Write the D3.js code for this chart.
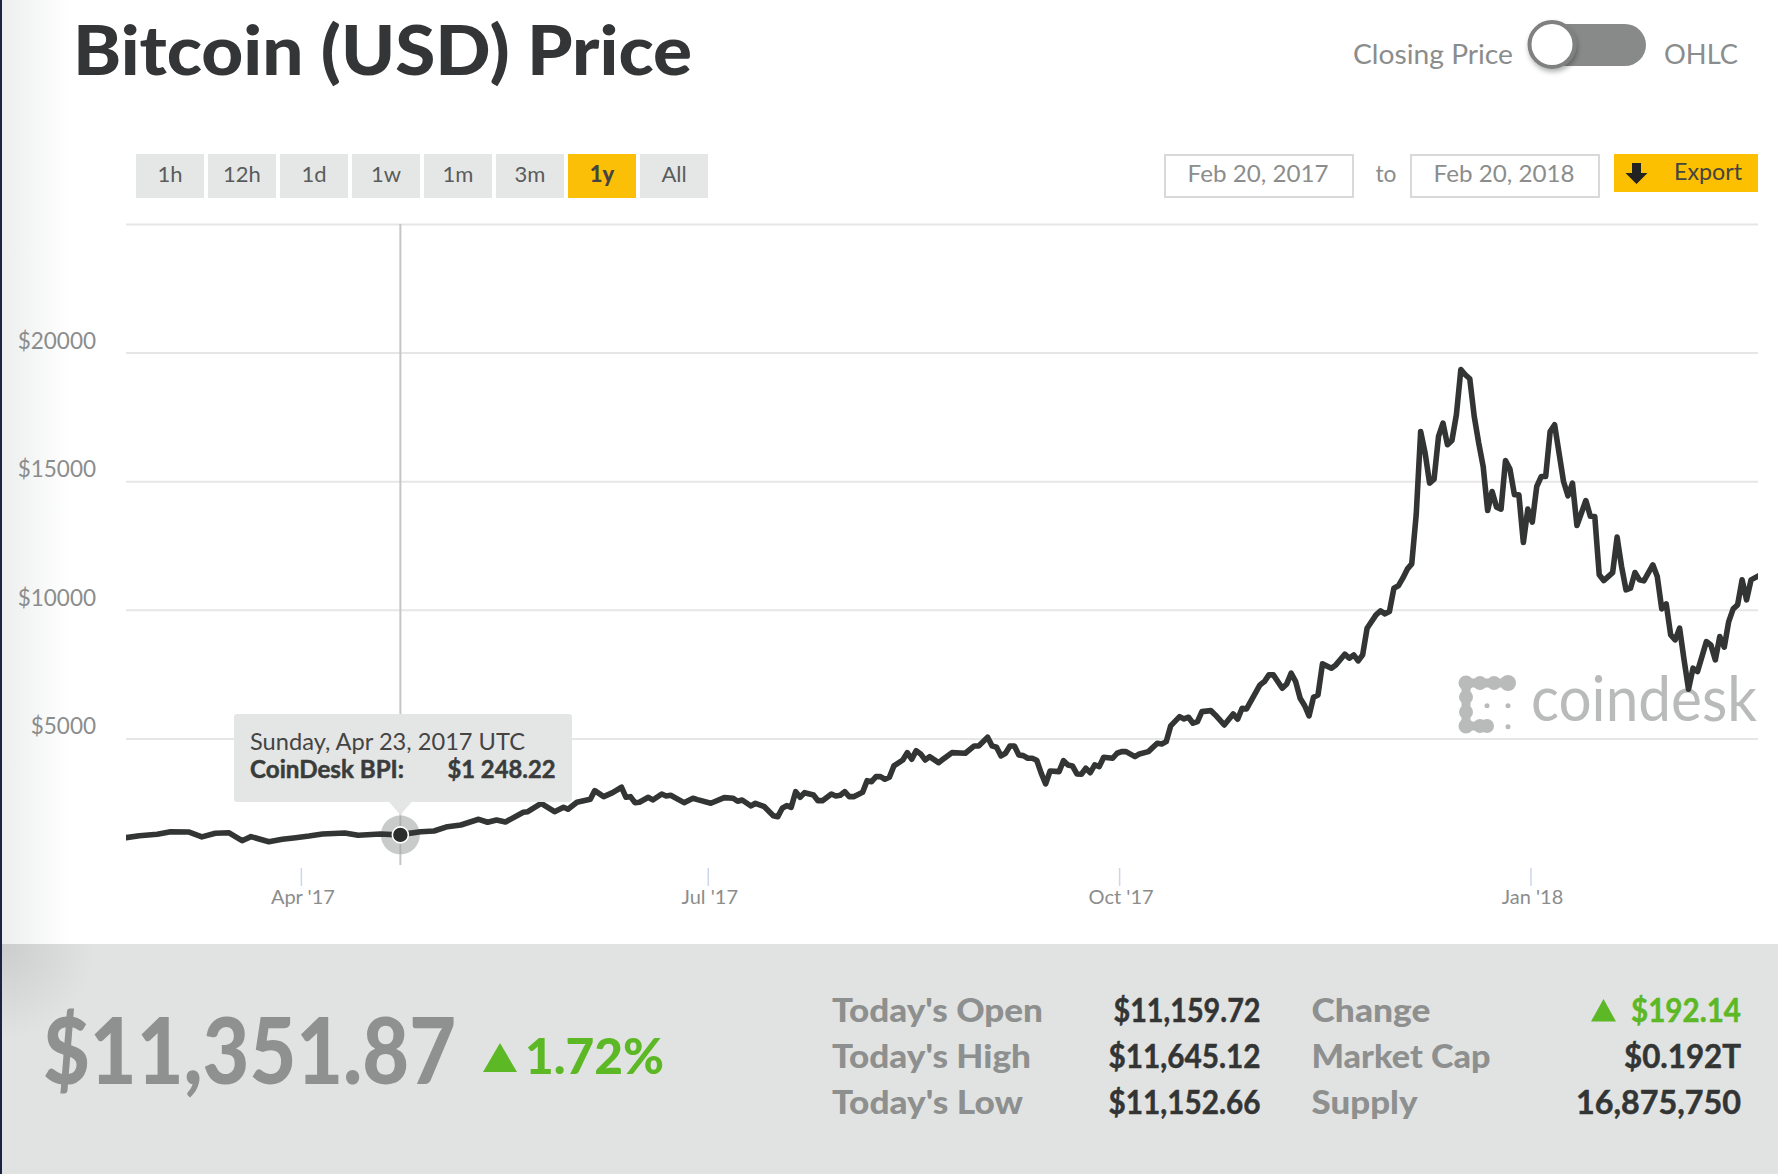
<!DOCTYPE html>
<html><head><meta charset="utf-8">
<script src="https://cdn.jsdelivr.net/npm/d3@7"></script>
<style>html,body{margin:0;padding:0;background:#fff;overflow:hidden}svg{display:block}text{font-family:Lato,"Open Sans",sans-serif}</style>
</head><body><div id="chart"></div>
<script>
// ---------- data ----------
const startDay = "2017-02-21";
const endDay = "2018-02-21";
const dayNumbers = [0,3,7,10,14,17,20,23,26,28,32,35,38,41,44,49,52,57,61,66,69,72,75,79,81,83,85,89,90,93,96,98,99,101,104,105,107,109,111,112,113,114,115,117,118,120,121,122,125,127,128,131,134,136,137,138,140,141,143,145,146,147,148,149,150,151,152,154,155,156,158,159,160,161,162,163,165,166,167,168,169,170,171,172,174,175,176,177,178,179,180,182,183,185,188,190,191,193,194,195,196,197,198,199,200,201,202,203,204,205,206,207,209,210,211,212,213,214,215,216,217,218,219,221,222,223,224,226,227,229,231,232,233,234,236,237,238,239,240,241,243,244,246,248,249,250,251,254,255,256,257,259,260,261,262,263,264,265,266,267,268,270,271,273,274,275,276,277,278,280,281,282,283,284,285,286,287,288,289,290,291,292,293,294,295,296,297,298,299,300,301,302,303,304,305,306,307,308,309,310,311,312,313,314,315,316,317,318,319,320,321,322,323,324,325,327,328,329,330,331,333,334,335,336,337,338,339,340,342,343,344,345,346,347,348,349,350,351,352,354,355,356,357,358,359,360,361,362,363,364,366];
const closingPrices = [1140,1218,1272,1373,1361,1170,1311,1334,1023,1179,984,1077,1140,1206,1284,1323,1233,1284,1248.22,1373,1400,1568,1634,1855,1739,1828,1750,2127,2151,2478,2151,2322,2244,2517,2633,2968,2735,2890,3100,2711,2735,2501,2517,2711,2606,2840,2762,2789,2501,2672,2620,2478,2696,2672,2556,2606,2373,2478,2346,1996,1957,2283,2385,2322,2929,2711,2890,2801,2579,2579,2840,2762,2790,2929,2735,2735,2906,3357,3318,3513,3513,3412,3489,3929,4162,4446,4189,4524,4396,4162,4291,4057,4189,4446,4423,4707,4707,5045,4707,4656,4318,4423,4707,4707,4357,4330,4228,4228,4150,3650,3229,3734,3707,4135,3968,3929,3618,3606,3839,3668,3968,3902,4267,4228,4423,4485,4485,4291,4396,4485,4812,4780,4874,5485,5847,5757,5823,5590,5652,6041,6080,5913,5524,5952,5746,6173,6146,7080,7208,7469,7469,6951,7119,7535,7208,6562,6280,5874,6601,6691,7897,7729,7858,8274,8118,8247,8013,8247,9285,9803,9958,9842,9931,10841,10931,11230,11580,11787,13693,16933,16093,14926,15081,16739,17260,16416,16583,17583,19343,19139,18983,17517,16482,15572,13860,14600,13992,13914,15805,15470,14471,14471,12615,13914,13409,14794,15182,15182,16933,17194,16093,14988,14432,14926,13277,14249,13640,13627,11359,11137,11448,12825,11682,10775,10841,11448,11164,11125,11748,11292,10036,10231,9025,8830,9285,8052,6912,7729,7597,8764,8636,8052,8959,8546,9542,10036,10192,11164,10386,11164,11351.87];
const yTicks = [5000,10000,15000,20000,25000];
const hiddenYLabels = [25000];
const xTickDates = ["2017-04-01","2017-07-01","2017-10-01","2018-01-01"];
const xTickLabels = ["Apr '17","Jul '17","Oct '17","Jan '18"];
const rangeButtons = ["1h","12h","1d","1w","1m","3m","1y","All"];
const activeRange = "1y";
const selectedDay = 61;
const tooltipDate = "Sunday, Apr 23, 2017 UTC";
const tooltipSeries = "CoinDesk BPI:";
const tooltipValue = "$1 248.22";
const fromDate = "Feb 20, 2017";
const toDate = "Feb 20, 2018";
const currentPrice = "$11,351.87";
const changePct = "1.72%";
const statLabelsLeft = ["Today's Open","Today's High","Today's Low"];
const statValuesLeft = ["$11,159.72","$11,645.12","$11,152.66"];
const statLabelsRight = ["Change","Market Cap","Supply"];
const statValuesRight = ["$192.14","$0.192T","16,875,750"];

// ---------- layout ----------
const W = 1778, H = 1174;
const GREY = "#8b8d8c", DARK = "#333534", GREEN = "#5cb824", GOLD = "#fbbf07";
const svg = d3.select("#chart").append("svg").attr("width", W).attr("height", H);
const defs = svg.append("defs");
const lg1 = defs.append("linearGradient").attr("id","edgeTop");
lg1.append("stop").attr("offset",0).attr("stop-color","#eceeee");
lg1.append("stop").attr("offset",1).attr("stop-color","#ffffff");
const lg2 = defs.append("radialGradient").attr("id","edgeBottom").attr("gradientUnits","userSpaceOnUse")
  .attr("cx",0).attr("cy",944).attr("r",95);
lg2.append("stop").attr("offset",0).attr("stop-color","#cbcdcc");
lg2.append("stop").attr("offset",1).attr("stop-color","#e1e3e2");
const sh = defs.append("filter").attr("id","knobShadow").attr("x","-40%").attr("y","-40%").attr("width","180%").attr("height","180%");
sh.append("feDropShadow").attr("dx",1).attr("dy",3).attr("stdDeviation",2.5).attr("flood-color","#000").attr("flood-opacity",0.3);
defs.append("clipPath").attr("id","plotClip").append("rect").attr("x",126).attr("y",200).attr("width",1632).attr("height",680);

function label(parent, str, o){
  const t = parent.append("text").text(str).attr("x",o.x).attr("y",o.y)
    .attr("font-size",o.size).attr("font-weight",o.weight||400).attr("fill",o.fill||GREY)
    .attr("text-anchor",o.anchor||"start");
  if(o.len) t.attr("textLength",o.len).attr("lengthAdjust","spacingAndGlyphs");
  if(o.bold) t.attr("stroke",o.fill||GREY).attr("stroke-width",o.bold);
  return t;
}

// page background pieces
svg.append("rect").attr("x",0).attr("y",0).attr("width",70).attr("height",944).attr("fill","url(#edgeTop)");
svg.append("rect").attr("x",0).attr("y",944).attr("width",W).attr("height",230).attr("fill","#e1e3e2");
svg.append("rect").attr("x",0).attr("y",944).attr("width",100).attr("height",100).attr("fill","url(#edgeBottom)");
svg.append("rect").attr("x",0).attr("y",0).attr("width",2).attr("height",H).attr("fill","#1c2340");

// header
label(svg,"Bitcoin (USD) Price",{x:73,y:75,size:68,weight:900,fill:"#333536",len:619});
label(svg,"Closing Price",{x:1353,y:64,size:26,len:160});
label(svg,"OHLC",{x:1664,y:64,size:26,len:74});
svg.append("rect").attr("x",1535).attr("y",24).attr("width",111).attr("height",42).attr("rx",21).attr("fill","#888a89");
svg.append("circle").attr("cx",1552).attr("cy",44.5).attr("r",22.5).attr("fill","#fff").attr("stroke","#7f8180").attr("stroke-width",4).attr("filter","url(#knobShadow)");

// range buttons
const btnX = d3.scaleBand().domain(rangeButtons).range([136,708]).paddingInner(4/72).paddingOuter(0);
const btn = svg.append("g").selectAll("g").data(rangeButtons).join("g").attr("transform",d=>`translate(${btnX(d)},154)`);
btn.append("rect").attr("width",btnX.bandwidth()).attr("height",44).attr("fill",d=>d===activeRange?GOLD:"#e5e7e6");
btn.append("text").text(d=>d).attr("x",btnX.bandwidth()/2).attr("y",27.5).attr("text-anchor","middle")
  .attr("font-size",22).attr("font-weight",d=>d===activeRange?900:400).attr("fill",d=>d===activeRange?"#444":"#5a5c5b");

// date boxes
[[1164,fromDate],[1410,toDate]].forEach(([bx,s])=>{
  svg.append("rect").attr("x",bx+1).attr("y",155).attr("width",188).attr("height",42).attr("fill","#fff").attr("stroke","#d8d9d9").attr("stroke-width",2);
  label(svg,s,{x:bx+94,y:182,size:24,anchor:"middle",len:141});
});
label(svg,"to",{x:1386,y:182,size:24,anchor:"middle",len:21});
svg.append("rect").attr("x",1614).attr("y",154).attr("width",144).attr("height",38).attr("fill","#fcc000");
svg.append("path").attr("fill","#222").attr("d","M1632 163h9v10h6.5L1636.5 184L1625.5 173h6.5z");
label(svg,"Export",{x:1674,y:180,size:23,fill:"#444",len:68});

// scales: the axis ticks and the plotted closes are calibrated separately against the picture
const parseDay = d3.utcParse("%Y-%m-%d");
const start = parseDay(startDay);
const x = d3.scaleUtc().domain([start,parseDay(endDay)]).range([126.5,1758.5]);
const xLine = d3.scaleUtc().domain([start,parseDay(endDay)]).range([126,1755.5]);
const y = d3.scaleLinear().domain([0,25000]).range([867,224]);
const series = dayNumbers.map((n,i)=>({date:d3.utcDay.offset(start,n),value:closingPrices[i]}));

// y axis + grid
const yAxis = svg.append("g").attr("transform","translate(126,0)")
  .call(d3.axisRight(y).tickValues(yTicks).tickSize(1632).tickFormat(d=>hiddenYLabels.includes(d)?"":"$"+d));
yAxis.select(".domain").remove();
yAxis.selectAll("line").attr("stroke","#e6e6e6").attr("stroke-width",2);
yAxis.selectAll("text").attr("x",-30).attr("dy",-4.5).attr("text-anchor","end").attr("font-size",22.5).attr("fill",GREY)
  .attr("font-family","Lato,sans-serif");

// x axis
const xDates = xTickDates.map(parseDay);
const xAxis = svg.append("g").attr("transform","translate(0,868)")
  .call(d3.axisBottom(x).tickValues(xDates).tickSize(18).tickPadding(0).tickFormat((d,i)=>xTickLabels[i]));
xAxis.select(".domain").remove();
xAxis.selectAll("line").attr("stroke","#ccd6eb").attr("stroke-width",1.5);
xAxis.selectAll("text").attr("y",36).attr("dx",1.5).attr("dy",0).attr("font-size",20).attr("fill",GREY).attr("font-family","Lato,sans-serif");

// watermark
const wm = svg.append("g").attr("fill","#b9bbba");
wm.append("path").attr("fill","none").attr("stroke","#b9bbba").attr("stroke-width",9).attr("stroke-linecap","round").attr("stroke-linejoin","round")
  .attr("d","M1508 683L1466 683L1466 726L1487 726");
[[1466,683,7.5],[1480,683,7],[1494,683,7],[1508,683,8],[1466,697,7],[1466,712,7],[1466,726,7.5],[1480,726,7],[1487,726,7]]
  .forEach(c=>wm.append("circle").attr("cx",c[0]).attr("cy",c[1]).attr("r",c[2]));
[[1487,705.7],[1508,705.7],[1508,726.7]].forEach(c=>wm.append("circle").attr("cx",c[0]).attr("cy",c[1]).attr("r",2.5));
label(wm,"coindesk",{x:1531,y:721,size:62,fill:"#b9bbba",len:226});

// crosshair and halo
const sel = series.find(d=>+d.date===+d3.utcDay.offset(start,selectedDay));
const sx = x(d3.utcHour.offset(sel.date,6)), sy = y(sel.value);
svg.append("line").attr("x1",sx).attr("x2",sx).attr("y1",224).attr("y2",865).attr("stroke","#c4c6c5").attr("stroke-width",2);
svg.append("circle").attr("cx",sx).attr("cy",sy).attr("r",19.5).attr("fill","#c9cbca");
svg.append("line").attr("x1",sx).attr("x2",sx).attr("y1",sy-19).attr("y2",sy+19).attr("stroke","#b0b2b1").attr("stroke-width",2);

// price line
svg.append("path").datum(series).attr("clip-path","url(#plotClip)")
  .attr("fill","none").attr("stroke",DARK).attr("stroke-width",5.6).attr("stroke-linejoin","round").attr("stroke-linecap","round")
  .attr("d",d3.line().x(d=>xLine(d.date)).y(d=>y(d.value)).curve(d3.curveLinear));
svg.append("circle").attr("cx",sx).attr("cy",sy).attr("r",8).attr("fill","#2b2d2d").attr("stroke","#fff").attr("stroke-width",1.6);

// tooltip
const tip = svg.append("g");
tip.append("rect").attr("x",234).attr("y",714).attr("width",338).attr("height",88).attr("rx",3).attr("fill","#e4e6e5");
tip.append("path").attr("fill","#e4e6e5").attr("d",d3.line()([[sx-12,801],[sx,sy-20],[sx+12,801]]));
label(tip,tooltipDate,{x:250,y:750,size:24,fill:"#444",len:275});
label(tip,tooltipSeries,{x:250,y:778,size:24,weight:700,fill:"#3a3c3b",len:154,bold:0.5});
label(tip,tooltipValue,{x:447.5,y:778,size:24,weight:700,fill:"#3a3c3b",len:108,bold:0.5});

// summary panel
label(svg,currentPrice,{x:43,y:1084,size:92,weight:900,fill:"#8f9190",len:413});
svg.append("path").attr("fill",GREEN).attr("d","M483 1072L500 1043L517 1072Z");
label(svg,changePct,{x:525,y:1074,size:50,weight:900,fill:GREEN,len:139});

const rowY = d3.scalePoint().domain([0,1,2]).range([1021.5,1113.5]);
const leftW = [211,199,191], rightW = [119,179,106];
const leftValW = [147,152,152], rightValW = [110,117,165];
statLabelsLeft.forEach((s,i)=>{
  label(svg,s,{x:832,y:rowY(i),size:32,weight:900,fill:"#8e908f",len:leftW[i]});
  label(svg,statValuesLeft[i],{x:1260.5,y:rowY(i),size:32,weight:700,fill:DARK,anchor:"end",len:leftValW[i],bold:0.5});
});
statLabelsRight.forEach((s,i)=>{
  label(svg,s,{x:1311.5,y:rowY(i),size:32,weight:900,fill:"#8e908f",len:rightW[i]});
  label(svg,statValuesRight[i],{x:1741,y:rowY(i),size:32,weight:700,fill:i===0?GREEN:DARK,anchor:"end",len:rightValW[i],bold:0.5});
});
svg.append("path").attr("fill",GREEN).attr("d","M1591 1021.5L1603.5 999L1616 1021.5Z");
</script></body></html>
